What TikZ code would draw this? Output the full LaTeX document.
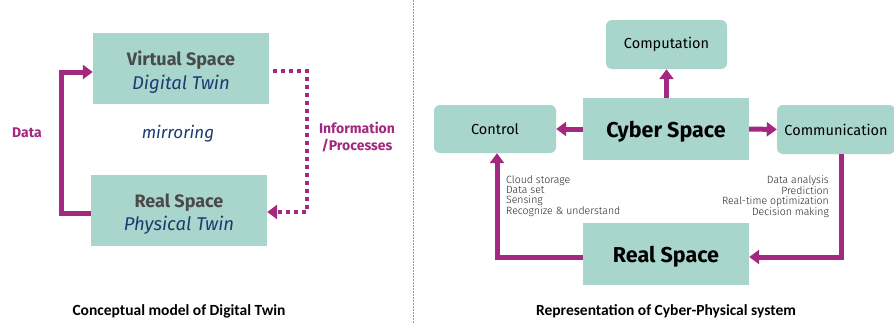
\documentclass[tikz,border=0pt]{standalone}
\usepackage{fontspec}
\setmainfont{Fira Sans}
\newfontfamily\lightf{Fira Sans Light}
\newfontfamily\capf{Carlito}
\usetikzlibrary{arrows.meta}
\definecolor{boxfill}{HTML}{A8D5CC}
\definecolor{purp}{HTML}{A3287F}
\definecolor{dgray}{HTML}{4A4A4A}
\definecolor{dblue}{HTML}{1E3A70}
\definecolor{sepgray}{HTML}{9A9A9A}
\begin{document}
\begin{tikzpicture}[x=1pt,y=-1pt,
  sqbox/.style={rectangle, fill=boxfill, draw=none, inner sep=0pt},
  rbox/.style={rectangle, rounded corners=6pt, fill=boxfill, draw=none, inner sep=0pt},
  parr/.style={draw=purp, line width=5pt, -{Triangle[length=10pt,width=14pt]}},
  darr/.style={draw=purp, line width=4pt, dash pattern=on 4pt off 4pt, -{Triangle[length=10pt,width=14pt]}},
  bigb/.style={font=\fontsize{18}{22}\selectfont\bfseries, text=dgray},
  bigi/.style={font=\fontsize{18.5}{22}\selectfont\itshape, text=dblue},
  plab/.style={font=\fontsize{14}{17}\selectfont\bfseries, text=purp},
  mid/.style={font=\fontsize{14.5}{17}\selectfont, text=black},
  small/.style={font=\lightf\fontsize{10.5}{10}\selectfont, text=black!85, inner sep=0pt},
  capt/.style={font=\capf\fontsize{15.5}{18}\selectfont\bfseries, text=black},
  cyb/.style={font=\fontsize{21.5}{24}\selectfont\bfseries, text depth=0pt}
]
\useasboundingbox (0,0) rectangle (894,324);
\fill[white] (0,0) rectangle (894,324);

% separator
\coordinate (septop) at (413.5,0);
\coordinate (sepbot) at (413.5,324);
\draw[sepgray, line width=1pt, dash pattern=on 1.5pt off 1.5pt] (septop) -- (sepbot);

% ---------- left ----------
\node[sqbox, minimum width=176pt, minimum height=71pt] (vs) at (181,68.5) {};
\node[sqbox, minimum width=176pt, minimum height=71pt] (rs) at (179,210.5) {};
\node[bigb] (vst) at (181,60) {Virtual Space};
\node[bigi] (vsi) at (181,84) {Digital Twin};
\node[bigb] (rst) at (179,202.5) {Real Space};
\node[bigi] (rsi) at (179,225) {Physical Twin};
\node[font=\fontsize{17}{20}\selectfont\itshape, text=dblue] (mir) at (178,134) {mirroring};
\node[plab] (data) at (27,133) {Data};
\node[plab, align=center] (info) at (357,137) {Information\\/Processes};

\coordinate (d1) at (61,213);
\coordinate (d2) at (61,72);
\draw[parr] (rs.west |- d1) -- (d1) -- (d2) -- (vs.west |- d2);

\coordinate (i0) at (273,71);
\coordinate (i1) at (307,71);
\coordinate (i2) at (307,212);
\draw[darr] (i0) -- (i1) -- (i2) -- (rs.east |- i2);

\node[capt] (cap1) at (179,311) {Conceptual model of Digital Twin};

% ---------- right ----------
\node[rbox, minimum width=121pt, minimum height=49pt, mid] (comp) at (666.5,44.5) {Computation};
\node[sqbox, minimum width=166pt, minimum height=62pt, cyb] (cyber) at (666,129) {Cyber Space};
\node[rbox, minimum width=122pt, minimum height=48pt, mid] (ctrl) at (495,129) {Control};
\node[rbox, minimum width=118pt, minimum height=49pt, mid] (comm) at (836,129.5) {Communication};
\node[sqbox, minimum width=166pt, minimum height=62pt, cyb] (real) at (666,254) {Real Space};

\draw[parr] (cyber.north -| comp.south) -- (comp.south);
\draw[parr] (cyber.west) -- (ctrl.east);
\draw[parr] (cyber.east) -- (comm.west);

\coordinate (c1) at (841,257);
\coordinate (c0) at (841,154);
\draw[parr] (c0) -- (c1) -- (real.east |- c1);

\coordinate (k1) at (497,257);
\coordinate (k2) at (497,153);
\draw[parr] (real.west |- k1) -- (k1) -- (ctrl.south -| k1);

\node[small, align=left, anchor=north west] (ltxt) at (506,175) {Cloud storage\\Data set\\Sensing\\Recognize \& understand};
\node[small, align=right, anchor=north east] (rtxt) at (829,175) {Data analysis\\Prediction\\Real-time optimization\\Decision making};

\node[capt] (cap2) at (666,311) {Representation of Cyber-Physical system};
\end{tikzpicture}
\end{document}
